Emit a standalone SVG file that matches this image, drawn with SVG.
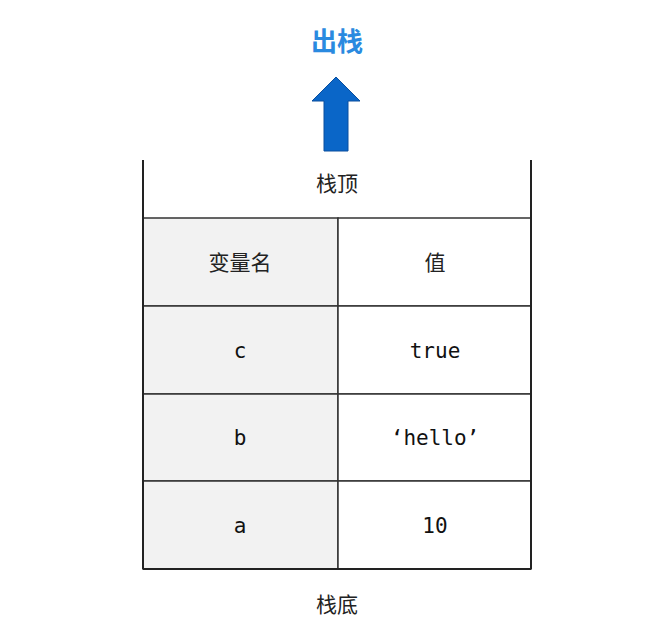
<svg xmlns="http://www.w3.org/2000/svg" width="670" height="621" viewBox="0 0 670 621">
<style>
.cjk{font-family:"Noto Sans CJK SC","Noto Sans",sans-serif;font-size:21px;fill:#222;text-anchor:middle}
.mono{font-family:"DejaVu Sans Mono","Liberation Mono",monospace;font-size:21px;fill:#111;text-anchor:middle}
.cell{stroke:#333;stroke-width:1.5}
.k{fill:#f2f2f2}
.v{fill:#ffffff}
</style>
<rect width="670" height="621" fill="#ffffff"/>
<g id="title"><text x="337" y="51" style="font-family:'Noto Sans CJK SC',sans-serif;font-size:26px;font-weight:bold;fill:#2a8ae0;text-anchor:middle">出栈</text></g>
<g id="arrow"><path d="M336,77 L360,101 L348,101 L348,151 L324,151 L324,101 L312,101 Z" fill="#0a66c8" stroke="#0a4f9e" stroke-width="1"/></g>
<g id="stack">
<text class="cjk" x="337" y="191">栈顶</text>
</g>
<g id="header">
<rect class="cell k" x="143" y="218" width="195" height="88"/>
<rect class="cell v" x="338" y="218" width="193" height="88"/>
<text class="cjk" x="240" y="270">变量名</text>
<text class="cjk" x="435" y="270">值</text>
</g>
<g id="row-c">
<rect class="cell k" x="143" y="306" width="195" height="88"/>
<rect class="cell v" x="338" y="306" width="193" height="88"/>
<text class="mono" x="240" y="358">c</text>
<text class="mono" x="435" y="358">true</text>
</g>
<g id="row-b">
<rect class="cell k" x="143" y="394" width="195" height="87"/>
<rect class="cell v" x="338" y="394" width="193" height="87"/>
<text class="mono" x="240" y="445">b</text>
<text class="mono" x="435" y="445">‘hello’</text>
</g>
<g id="row-a">
<rect class="cell k" x="143" y="481" width="195" height="88"/>
<rect class="cell v" x="338" y="481" width="193" height="88"/>
<text class="mono" x="240" y="533">a</text>
<text class="mono" x="435" y="533">10</text>
</g>
<path d="M143,569 L531,569 M143,160 L143,569 M531,160 L531,569" fill="none" stroke="#222" stroke-width="2"/>
<text class="cjk" x="337" y="612">栈底</text>
</svg>
